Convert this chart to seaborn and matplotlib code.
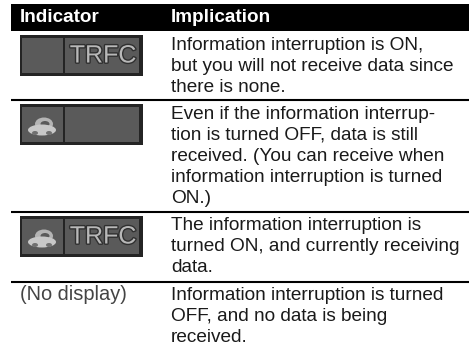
import seaborn as sns
import matplotlib.pyplot as plt
from matplotlib.patches import Rectangle, Ellipse
import matplotlib.patheffects as pe

# Table contents
headers = ['Indicator', 'Implication']
implications = [
    ['Information interruption is ON,', 'but you will not receive data since', 'there is none.'],
    ['Even if the information interrup-', 'tion is turned OFF, data is still',
     'received. (You can receive when', 'information interruption is turned', 'ON.)'],
    ['The information interruption is', 'turned ON, and currently receiving', 'data.'],
    ['Information interruption is turned', 'OFF, and no data is being', 'received.'],
]
show_car = [False, True, True, None]
show_trfc = [True, False, True, None]
no_display = '(No display)'

# Layout in pixels
first_baseline = [50, 119, 230, 300]
line_step = 21
rule_y = [100, 211.5, 282]
icon_y = [35, 104, 216]

sns.set_theme(style='white')
plt.rcParams['font.family'] = ['Liberation Sans', 'DejaVu Sans']

fig = plt.figure(figsize=(4.69, 3.5), dpi=100)
ax = fig.add_axes([0, 0, 1, 1])
ax.set_xlim(0, 469)
ax.set_ylim(350, 0)
ax.axis('off')

# Header band
ax.add_patch(Rectangle((11, 4), 458, 27, color='black', lw=0))
ax.text(20, 22, headers[0], color='white', fontsize=13.6, fontweight='bold', va='baseline')
ax.text(171, 22, headers[1], color='white', fontsize=13.6, fontweight='bold', va='baseline')

# Row rules
for y in rule_y:
    ax.plot([11, 469], [y, y], color='black', lw=1.5, solid_capstyle='butt')


def draw_car(x, y):
    # little car glyph, centre at x, y
    ax.add_patch(Ellipse((x + 2, y - 3), 18, 13, color='#b4b4b4', lw=0))
    ax.add_patch(Ellipse((x + 3, y - 3), 9, 6, color='#5a5a5a', lw=0))
    ax.add_patch(Ellipse((x, y + 3), 28, 11, color='#c8c8c8', lw=0))
    ax.add_patch(Ellipse((x - 7, y + 6), 6, 4, color='#707070', lw=0))
    ax.add_patch(Ellipse((x + 7, y + 6), 6, 4, color='#707070', lw=0))


def draw_icon(y, car, trfc):
    ax.add_patch(Rectangle((20, y), 123, 41, color='#242424', lw=0))
    ax.add_patch(Rectangle((22, y + 3), 41, 35, color='#5a5a5a', lw=0))
    ax.add_patch(Rectangle((65, y + 3), 74, 35, color='#5a5a5a', lw=0))
    if car:
        draw_car(42, y + 23)
    if trfc:
        ax.text(103, y + 20.5, 'TRFC', color='#b8b8b8', fontsize=18, ha='center', va='center',
                path_effects=[pe.withStroke(linewidth=2, foreground='#303030')])


for i, lines in enumerate(implications):
    for j, line in enumerate(lines):
        ax.text(171, first_baseline[i] + j * line_step, line, color='#1a1a1a', fontsize=13.65, va='baseline')
    if show_car[i] is None:
        ax.text(20, first_baseline[i], no_display, color='#444444', fontsize=14.4, va='baseline')
    else:
        draw_icon(icon_y[i], show_car[i], show_trfc[i])

fig.savefig('out.png', dpi=100, facecolor='white')
